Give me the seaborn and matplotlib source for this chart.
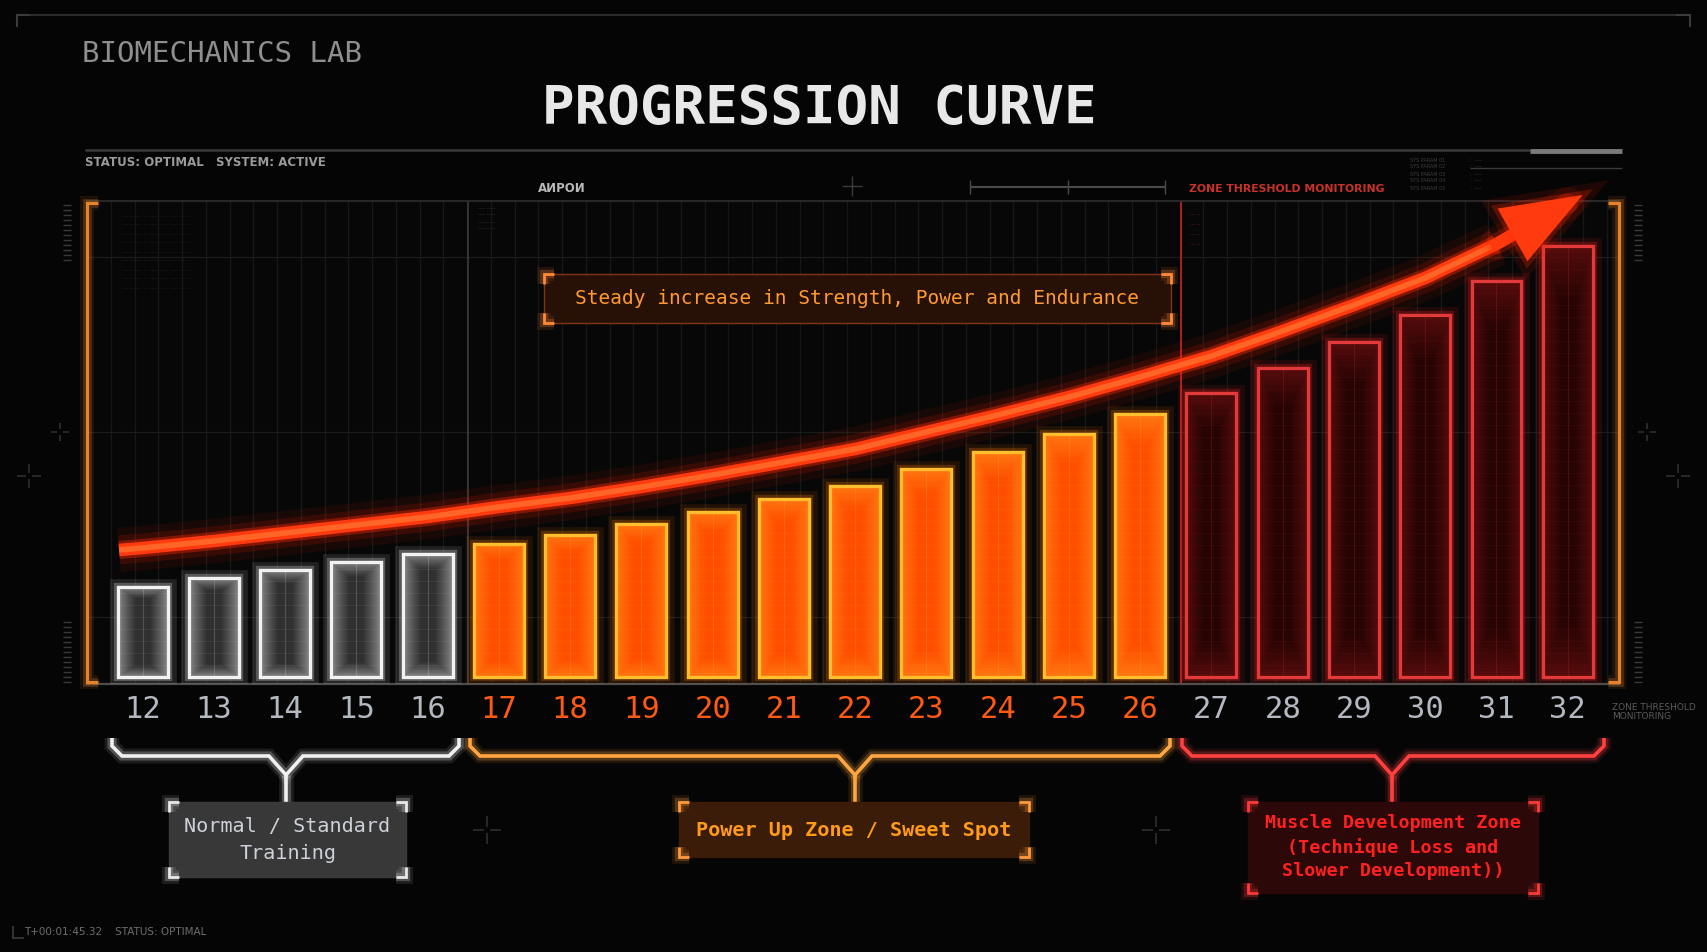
import numpy as np
import pandas as pd
import matplotlib
matplotlib.use("Agg")
import matplotlib.pyplot as plt
import seaborn as sns
from matplotlib import patheffects as pe
from matplotlib.patches import Rectangle, FancyArrowPatch
from matplotlib.colors import to_rgb

# ---------------- data ----------------
ages = [str(a) for a in range(12, 33)]
values = [90, 99, 107, 115, 123, 133, 142, 153, 165, 178, 191,
          208, 225, 243, 263, 284, 309, 335, 362, 396, 431]
trend = [129, 136, 144, 152, 160, 170, 179, 190, 202, 215, 228,
         245, 262, 280, 300, 321, 346, 372, 399, 433, 468]
trend_start = (-0.33, 127)
trend_tip = (20.21, 482)
zones = ["Normal"] * 5 + ["Power"] * 10 + ["Muscle"] * 6
zone_order = ["Normal", "Power", "Muscle"]
zone_labels = ["Normal / Standard\nTraining",
               "Power Up Zone / Sweet Spot",
               "Muscle Development Zone\n(Technique Loss and\nSlower Development))"]
title = "PROGRESSION CURVE"
subtitle = "BIOMECHANICS LAB"
note = "Steady increase in Strength, Power and Endurance"

df = pd.DataFrame({"age": ages, "value": values, "zone": zones})

# ---------------- style ----------------
sns.set_style("dark", {"axes.facecolor": "#070707", "figure.facecolor": "#050505"})
MONO = ["DejaVu Sans Mono", "DejaVu Sans"]
plt.rcParams["font.family"] = MONO

W, H = 1707, 952
fig = plt.figure(figsize=(W / 100, H / 100), dpi=100, facecolor="#050505")

zone_edge = {"Normal": "#f2f2f2", "Power": "#ffbe2e", "Muscle": "#e23a3a"}
zone_fill = {"Normal": "#2a2a2a", "Power": "#ff5200", "Muscle": "#2c0505"}
zone_grad = {"Normal": ("#8c8c8c", "#303030"),
             "Power": ("#ff7a12", "#ff4e00"),
             "Muscle": ("#5a0c0c", "#270404")}
zone_tick = {"Normal": "#b4b8c0", "Power": "#ff5a14", "Muscle": "#b4b8c0"}
zone_glow = {"Normal": "#ffffff", "Power": "#ff7a00", "Muscle": "#ff2020"}

# ---------------- main axes ----------------
ax = fig.add_axes([87 / W, 1 - 684 / H, (1619 - 87) / W, (684 - 201) / H])
ax.set_facecolor("#070707")

# faint background grid
for gx in np.arange(-0.78, 20.72, 1 / 3):
    ax.axvline(gx, color="#171717", lw=0.9, zorder=0)
for gy in [60, 245, 420]:
    ax.axhline(gy, color="#1b1b1b", lw=0.9, zorder=0)
ax.axvline(4.57, color="#3a3a3a", lw=1.2, zorder=0.5)
ax.axvline(14.57, color="#b02020", lw=1.4, zorder=0.5)

sns.barplot(data=df, x="age", y="value", hue="zone", order=ages,
            hue_order=zone_order, palette=zone_fill, dodge=False,
            width=0.7, legend=False, ax=ax, zorder=3)


def grad_image(edge, center, nx=40, ny=160):
    e = np.array(to_rgb(edge))
    c = np.array(to_rgb(center))
    xs = np.linspace(0, 1, nx)
    ys = np.linspace(0, 1, ny)
    dx = np.minimum(xs, 1 - xs) * 2
    dy = np.minimum(ys, 1 - ys) * 2
    d = np.minimum(dx[None, :] * 1.4, dy[:, None] * 4.0)
    t = np.clip(d, 0, 1) ** 0.8
    img = e[None, None, :] * (1 - t[..., None]) + c[None, None, :] * t[..., None]
    return img


bars = list(ax.patches)
for p in bars:
    h = p.get_height()
    if not np.isfinite(h) or h == 0:
        continue
    i = int(round(p.get_x() + p.get_width() / 2))
    z = zones[i]
    p.set_edgecolor(zone_edge[z])
    p.set_linewidth(2.3)
    p.set_zorder(4)
    p.set_path_effects([pe.Stroke(linewidth=12, foreground=zone_glow[z], alpha=0.10),
                        pe.Stroke(linewidth=6, foreground=zone_glow[z], alpha=0.25),
                        pe.Normal()])
    x0, x1 = p.get_x(), p.get_x() + p.get_width()
    im = ax.imshow(grad_image(*zone_grad[z]), extent=(x0, x1, 0, h),
                   origin="lower", aspect="auto", zorder=4.2,
                   interpolation="bilinear")
    im.set_clip_path(p)
    xc = (x0 + x1) / 2
    ax.plot([xc, xc], [0, h], color=zone_edge[z], alpha=0.18, lw=0.8, zorder=4.3)
    for yy in np.arange(12, h - 4, 12):
        ax.plot([x0, x1], [yy, yy], color=zone_edge[z], alpha=0.07, lw=0.6, zorder=4.3)
    ax.add_patch(Rectangle((x0, 0), x1 - x0, h, fill=False,
                           edgecolor=zone_edge[z], lw=2.3, zorder=4.5))

ax.set_xlim(-0.78, 20.72)
ax.set_ylim(-7, 476)

# trend curve
cx = [trend_start[0]] + list(range(20))
cy = [trend_start[1]] + trend[:20]
for lw_, a_, c_ in [(32, 0.07, "#ff1a00"), (21, 0.14, "#ff2200"),
                    (13, 0.38, "#ff2a00"), (9, 1.0, "#ff3a0e"), (4, 0.55, "#ff8a3a")]:
    ax.plot(cx, cy, color=c_, lw=lw_, alpha=a_, solid_capstyle="butt",
            solid_joinstyle="round", zorder=6, clip_on=False)
arr = FancyArrowPatch((19, trend[19]), trend_tip,
                      arrowstyle="-|>,head_length=2.4,head_width=0.9",
                      mutation_scale=17, color="#ff3a0e", lw=9,
                      zorder=6.5, clip_on=False, shrinkA=0, shrinkB=0,
                      joinstyle="miter")
arr.set_path_effects([pe.Stroke(linewidth=24, foreground="#ff2200", alpha=0.10),
                      pe.Stroke(linewidth=15, foreground="#ff2a00", alpha=0.25),
                      pe.Normal()])
ax.add_patch(arr)

# axes styling
ax.set_xlabel("")
ax.set_ylabel("")
ax.set_yticks([])
ax.set_xticks(range(len(ages)))
ax.set_xticklabels(ages)
ax.tick_params(axis="x", which="major", length=0, pad=8, labelsize=22)
for lab, z in zip(ax.get_xticklabels(), zones):
    lab.set_color(zone_tick[z])
ax.set_xticks(np.arange(-0.5, 21, 1), minor=True)
ax.tick_params(axis="x", which="minor", length=5, width=1.2, color="#555555")
for s in ["left", "right"]:
    ax.spines[s].set_visible(False)
ax.spines["bottom"].set_color("#4d4d4d")
ax.spines["bottom"].set_linewidth(1.6)
ax.spines["top"].set_color("#2e2e2e")
ax.spines["top"].set_linewidth(1.2)

# ---------------- overlay (pixel coordinates) ----------------
ov = fig.add_axes([0, 0, 1, 1], zorder=5)
ov.set_xlim(0, W)
ov.set_ylim(H, 0)
ov.axis("off")
ov.patch.set_alpha(0)


def glow(color, lw):
    return [pe.Stroke(linewidth=lw + 8, foreground=color, alpha=0.10),
            pe.Stroke(linewidth=lw + 4, foreground=color, alpha=0.25),
            pe.Normal()]


def line(xs, ys, color, lw=1.0, alpha=1.0, g=False, z=2):
    ln, = ov.plot(xs, ys, color=color, lw=lw, alpha=alpha, zorder=z,
                  solid_capstyle="butt", solid_joinstyle="miter")
    if g:
        ln.set_path_effects(glow(color, lw))
    return ln


# outer frame
line([17, 17, 30], [27, 15, 15], "#3a3a3a", 1.5)
line([30, 1676], [15, 15], "#2c2c2c", 1.5)
line([1676, 1690, 1690], [15, 15, 27], "#3a3a3a", 1.5)
line([13, 13, 24], [926, 938, 938], "#3a3a3a", 1.2)

# header
ov.text(82, 54, subtitle, color="#8e8e8e", fontsize=21, va="center", ha="left")
ov.text(819, 109, title, color="#e8e8e8", fontsize=39, fontweight="bold",
        va="center", ha="center")
line([85, 1530], [150, 150], "#3a3a3a", 1.8)
line([1530, 1622], [151, 151], "#7a7a7a", 3.5)
line([1470, 1622], [168, 168], "#3a3a3a", 1.0)
ov.text(85, 163, "STATUS: OPTIMAL", color="#9a9a9a", fontsize=8.5, va="center",
        family=["DejaVu Sans"], fontweight="bold")
ov.text(216, 163, "SYSTEM: ACTIVE", color="#9a9a9a", fontsize=8.5, va="center",
        family=["DejaVu Sans"], fontweight="bold")
ov.text(538, 189, "AИPOИ", color="#b8b8b8", fontsize=8.5, va="center",
        family=["DejaVu Sans"], fontweight="bold")
ov.text(1189, 189, "ZONE THRESHOLD MONITORING", color="#c8322a", fontsize=7.8,
        va="center", family=["DejaVu Sans"], fontweight="bold")
# crosshair + scale bar
line([852, 852], [176, 196], "#3c3c3c", 1)
line([842, 862], [186, 186], "#3c3c3c", 1)
line([970, 1165], [187, 187], "#4a4a4a", 1.5)
for tx in [970, 1068, 1165]:
    line([tx, tx], [180, 194], "#4a4a4a", 1)
# tiny status block
for k, yy in enumerate([160, 167, 174, 181, 188]):
    ov.text(1410, yy, "SYS PARAM %02d" % (k + 1), color="#3c3c3c", fontsize=3.5,
            va="center", family=["DejaVu Sans"])
    ov.text(1470, yy, ":  ----", color="#3c3c3c", fontsize=3.5, va="center",
            family=["DejaVu Sans"])
# tiny decorative log text upper-left of plot
for k in range(9):
    ov.text(122, 216 + k * 9, "--- ------ -- ----- ---- --- ------",
            color="#262626", fontsize=4, va="center", family=["DejaVu Sans"])
for k in range(4):
    ov.text(478, 208 + k * 7, "---- -----", color="#3a3a3a", fontsize=3.5,
            va="center", family=["DejaVu Sans"])
    ov.text(1190, 214 + k * 10, "--- --", color="#6a1a1a", fontsize=3.5,
            va="center", family=["DejaVu Sans"])

# side brackets (orange) and ladders
ORG = "#e8822a"
line([98, 87, 87, 98], [203, 203, 682, 682], ORG, 2.2, g=True)
line([1608, 1619, 1619, 1608], [203, 203, 682, 682], ORG, 2.2, g=True)
for yy in np.arange(205, 262, 5):
    line([63, 71], [yy, yy], "#3a3a3a", 1)
    line([1634, 1642], [yy, yy], "#3a3a3a", 1)
for yy in np.arange(622, 684, 5):
    line([63, 71], [yy, yy], "#3a3a3a", 1)
    line([1634, 1642], [yy, yy], "#3a3a3a", 1)
ov.text(1612, 712, "ZONE THRESHOLD\nMONITORING", color="#5a5a5a", fontsize=6.5,
        va="center", ha="left", family=["DejaVu Sans"], linespacing=1.0)

# crosshairs
for (cxp, cyp, s) in [(60, 432, 9), (1647, 432, 9), (29, 476, 12), (1678, 476, 12),
                      (487, 830, 14), (1156, 830, 14)]:
    line([cxp - s, cxp - 3], [cyp, cyp], "#2e2e2e", 1.2)
    line([cxp + 3, cxp + s], [cyp, cyp], "#2e2e2e", 1.2)
    line([cxp, cxp], [cyp - s, cyp - 3], "#2e2e2e", 1.2)
    line([cxp, cxp], [cyp + 3, cyp + s], "#2e2e2e", 1.2)

# footer
ov.text(24, 932, "T+00:01:45.32    STATUS: OPTIMAL", color="#6e6e6e", fontsize=7.5,
        va="center", family=["DejaVu Sans"])


def corner_box(x0, y0, x1, y1, fill, edge, corner, lw=2.0, fill_alpha=1.0, c=10):
    ov.add_patch(Rectangle((x0, y0), x1 - x0, y1 - y0, facecolor=fill,
                           edgecolor=edge, lw=1.0, alpha=fill_alpha, zorder=3))
    for (px, py, sx, sy) in [(x0, y0, 1, 1), (x1, y0, -1, 1), (x0, y1, 1, -1), (x1, y1, -1, -1)]:
        line([px + sx * c, px, px], [py, py, py + sy * c], corner, lw, g=True, z=4)


# note box
corner_box(544, 274, 1171, 323, "#2a1105", "#8a3a18", "#ff8a3a", fill_alpha=0.92)
ov.text(857, 298, note, color="#ff9a32", fontsize=14, ha="center", va="center", zorder=5)


# zone braces
def brace(x0, x1, xc, color, y_top=738, y_h=756, y_v=775, y_stem=802):
    xs = [x0, x0, x0 + 10, xc - 17, xc, xc + 17, x1 - 10, x1, x1]
    ys = [y_top, y_h - 10, y_h, y_h, y_v, y_h, y_h, y_h - 10, y_top]
    line(xs, ys, color, 2.6, g=True)
    line([xc, xc], [y_v, y_stem], color, 2.6, g=True)


brace(112, 459, 286, "#f0f0f0")
brace(470, 1170, 855, "#ffa640")
brace(1182, 1604, 1392, "#ff4040")

corner_box(169, 802, 406, 877, "#383838", "#3c3c3c", "#e8e8e8")
ov.text(287.5, 840, zone_labels[0], color="#cdd1d8", fontsize=14.5, ha="center",
        va="center", linespacing=1.55, zorder=5)
corner_box(679, 802, 1029, 857, "#3a1c08", "#3a1c08", "#ff9a3a")
ov.text(854, 830, zone_labels[1], color="#ff9a1a", fontsize=14.5, ha="center",
        va="center", fontweight="bold", zorder=5)
corner_box(1248, 802, 1538, 893, "#2d0808", "#2d0808", "#ff3a3a")
ov.text(1393, 847, zone_labels[2], color="#ff2020", fontsize=13.2, ha="center",
        va="center", fontweight="bold", linespacing=1.38, zorder=5)

fig.savefig("out.png", dpi=100, facecolor=fig.get_facecolor())
